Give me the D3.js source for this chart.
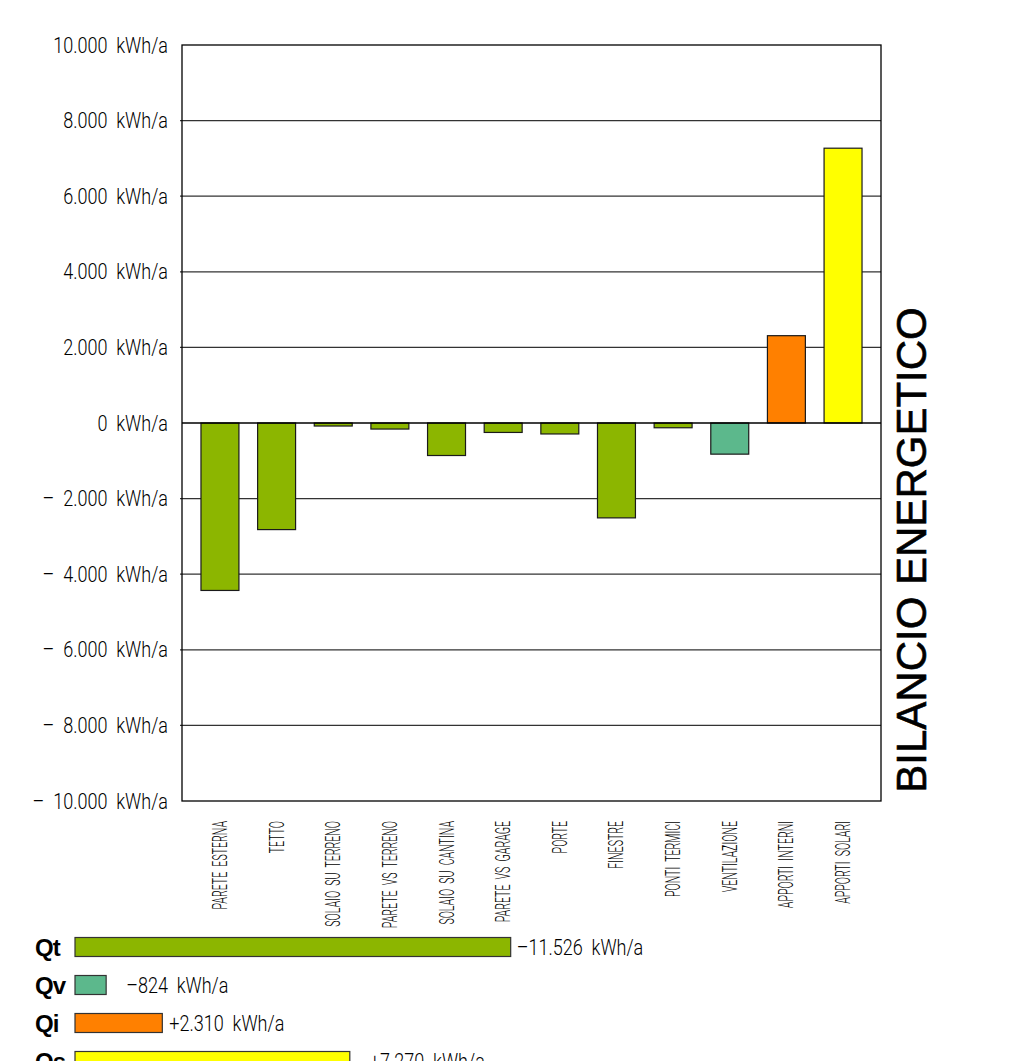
<!DOCTYPE html>
<html>
<head>
<meta charset="utf-8">
<script src="https://cdn.jsdelivr.net/npm/d3@7"></script>
<style>
  body { margin: 0; background: #fff; }
  svg text { white-space: pre; }
  .cad { font-family: Roboto, "DejaVu Sans Condensed", sans-serif; font-weight: 300; fill: #000; }
</style>
</head>
<body>
<div id="chart"></div>
<script>
//chart data
const categories = ["PARETE  ESTERNA", "TETTO", "SOLAIO  SU  TERRENO", "PARETE  VS  TERRENO",
    "SOLAIO  SU  CANTINA", "PARETE  VS  GARAGE", "PORTE", "FINESTRE", "PONTI  TERMICI",
    "VENTILAZIONE", "APPORTI  INTERNI", "APPORTI  SOLARI"];
const values = [-4430, -2820, -80, -160, -860, -250, -290, -2510, -126, -824, 2310, 7270];
const barColors = ["#8cb600", "#8cb600", "#8cb600", "#8cb600", "#8cb600", "#8cb600",
    "#8cb600", "#8cb600", "#8cb600", "#5cb88c", "#ff8000", "#ffff00"];

const yTicks = [-10000, -8000, -6000, -4000, -2000, 0, 2000, 4000, 6000, 8000, 10000];
const yTickLabels = ["–  10.000  kWh/a", "–  8.000  kWh/a", "–  6.000  kWh/a", "–  4.000  kWh/a",
    "–  2.000  kWh/a", "0  kWh/a", "2.000  kWh/a", "4.000  kWh/a", "6.000  kWh/a",
    "8.000  kWh/a", "10.000  kWh/a"];

//summary bars
const sumKeys = ["Qt", "Qv", "Qi", "Qs"];
const sumValues = [-11526, -824, 2310, 7270];
const sumLabels = ["–11.526  kWh/a", "–824  kWh/a", "+2.310  kWh/a", "+7.270  kWh/a"];
const sumColors = ["#8cb600", "#5cb88c", "#ff8000", "#ffff00"];

const W = 1034, H = 1061;
const plot = { left: 182, right: 881, top: 45, bottom: 801 };
const sy = 0.82;   //horizontal squeeze of the cad-like labels
const sxLab = 0.53; //squeeze of the rotated category labels

const svg = d3.select("#chart").append("svg")
    .attr("width", W)
    .attr("height", H);

const x = d3.scaleBand()
    .domain(categories)
    .range([plot.left, plot.right])
    .paddingInner(0.33)
    .paddingOuter(0.335);

const y = d3.scaleLinear()
    .domain([-10000, 10000])
    .range([plot.bottom, plot.top]);

//grid lines
svg.append("g")
    .selectAll("line")
    .data(yTicks.filter(d => d !== 0 && Math.abs(d) !== 10000))
    .enter().append("line")
    .attr("x1", plot.left - 2)
    .attr("x2", plot.right)
    .attr("y1", d => y(d))
    .attr("y2", d => y(d))
    .attr("stroke", "#333")
    .attr("stroke-width", 1.2);

//y axis labels
const yAxis = svg.append("g")
    .attr("transform", `translate(${plot.left},0)`)
    .call(d3.axisLeft(y).tickValues(yTicks).tickSize(0).tickPadding(14)
        .tickFormat((d, i) => yTickLabels[i]));
yAxis.select(".domain").remove();
yAxis.selectAll("text")
    .attr("class", "cad")
    .attr("x", -14 / sy)
    .attr("transform", `scale(${sy},1)`)
    .style("font-size", "22px");

//bars
svg.append("g")
    .selectAll("rect")
    .data(values)
    .enter().append("rect")
    .attr("x", (d, i) => x(categories[i]))
    .attr("width", x.bandwidth())
    .attr("y", d => y(Math.max(0, d)))
    .attr("height", d => Math.abs(y(d) - y(0)))
    .attr("fill", (d, i) => barColors[i])
    .attr("stroke", "#1a1a1a")
    .attr("stroke-width", 1.2);

//zero line
svg.append("line")
    .attr("x1", plot.left)
    .attr("x2", plot.right)
    .attr("y1", y(0))
    .attr("y2", y(0))
    .attr("stroke", "#000")
    .attr("stroke-width", 1.3);

//frame
svg.append("rect")
    .attr("x", plot.left)
    .attr("y", plot.top)
    .attr("width", plot.right - plot.left)
    .attr("height", plot.bottom - plot.top)
    .attr("fill", "none")
    .attr("stroke", "#000")
    .attr("stroke-width", 1.3);

//category labels (rotated)
svg.append("g")
    .selectAll("text")
    .data(categories)
    .enter().append("text")
    .attr("class", "cad")
    .attr("transform", d => `translate(${x(d) + x.bandwidth() / 2 + 7},${plot.bottom + 20}) rotate(-90) scale(${sxLab},1)`)
    .attr("text-anchor", "end")
    .style("font-size", "20px")
    .text(d => d);

//title
svg.append("text")
    .attr("transform", `translate(926,${(308 + 792) / 2}) rotate(-90)`)
    .attr("text-anchor", "middle")
    .style("font-family", "'Liberation Sans', Arial, sans-serif")
    .style("font-size", "42px")
    .style("stroke", "#000")
    .style("stroke-width", 0.6)
    .text("BILANCIO ENERGETICO");

//summary bars (same kWh scale as the chart)
const k = (plot.bottom - plot.top) / 20000;
const sumX = 75;
const rowY = d3.scalePoint().domain(sumKeys).range([947, 1061]);
const gaps = [6, 20, 7, 20];

const rows = svg.append("g")
    .selectAll("g")
    .data(sumKeys)
    .enter().append("g")
    .attr("transform", d => `translate(0,${rowY(d)})`);

rows.append("rect")
    .attr("x", sumX)
    .attr("y", -9.5)
    .attr("height", 19)
    .attr("width", (d, i) => Math.abs(sumValues[i]) * k)
    .attr("fill", (d, i) => sumColors[i])
    .attr("stroke", "#333")
    .attr("stroke-width", 1.2);

rows.append("text")
    .attr("x", 35)
    .attr("y", 9)
    .style("font-family", "'Liberation Sans', Arial, sans-serif")
    .style("font-weight", "bold")
    .style("font-size", "24px")
    .style("letter-spacing", "-1px")
    .text(d => d);

rows.append("text")
    .attr("class", "cad")
    .attr("transform", (d, i) => `translate(${sumX + Math.abs(sumValues[i]) * k + gaps[i]},8) scale(${sy},1)`)
    .style("font-size", "22px")
    .text((d, i) => sumLabels[i]);
</script>
</body>
</html>
